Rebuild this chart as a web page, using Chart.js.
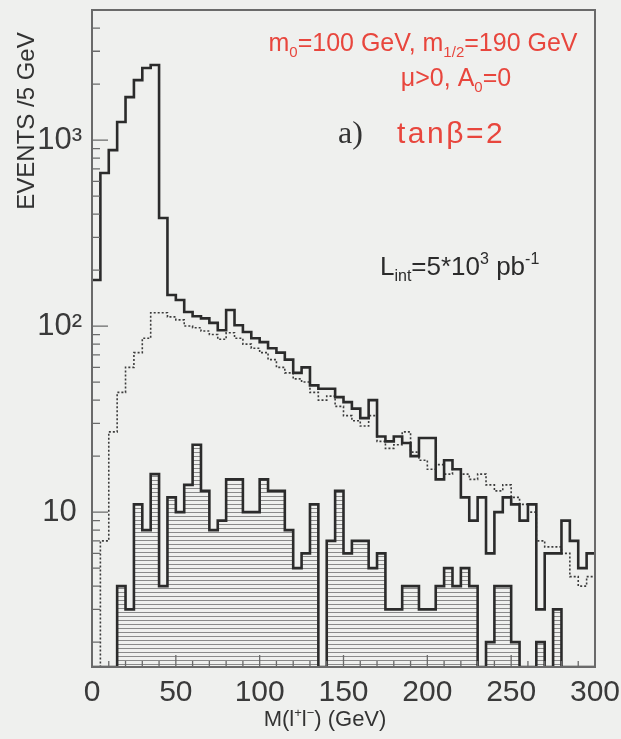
<!DOCTYPE html>
<html>
<head>
<meta charset="utf-8">
<script src="https://cdn.jsdelivr.net/npm/chart.js@4.4.0/dist/chart.umd.min.js"></script>
<style>
    html, body { margin: 0; padding: 0; background: #eff0ee; }
    canvas { display: block; }
</style>
</head>
<body>
<canvas id="massCanvas" width="621" height="739"></canvas>
<script>
// dilepton invariant mass, 5 GeV bins (lower edges)
var massBins = [0, 5, 10, 15, 20, 25, 30, 35, 40, 45, 50, 55, 60, 65, 70, 75, 80, 85, 90, 95,
    100, 105, 110, 115, 120, 125, 130, 135, 140, 145, 150, 155, 160, 165, 170, 175, 180, 185, 190, 195,
    200, 205, 210, 215, 220, 225, 230, 235, 240, 245, 250, 255, 260, 265, 270, 275, 280, 285, 290, 295];
var binWidth = 5;

// solid histogram (all events)
var totalEvents = [177, 665, 883, 1250, 1700, 2100, 2440, 2530, 381, 147,
    138, 119, 113, 110, 104, 95, 122, 101, 93, 86,
    82, 76, 72, 66, 56, 60, 48, 46, 46, 41.5,
    39, 36, 32, 40, 25.5, 24, 25.5, 23.5, 20, 25,
    25, 15, 19, 17, 12, 9, 12, 6, 10, 12,
    11, 9, 11, 3, 6, 6, 9, 7, 5, 6];

// dotted histogram
var dottedEvents = [0, 7, 27, 44, 60, 72, 86, 118, 118, 112,
    108, 100, 98, 94, 90, 85, 92, 86, 80, 76,
    72, 66, 60, 56, 52, 50, 44, 40, 42, 37,
    33, 31, 29, 33, 24, 22, 23, 27, 21, 19,
    17, 18, 16, 17, 16, 15, 16, 14, 13, 14,
    12, 11, 10, 7, 6.5, 6.5, 6, 4.5, 4, 4.5];

// hatched histogram
var hatchedEvents = [0, 0, 0, 4, 3, 11, 8, 16, 4, 12,
    10, 14, 23, 13, 8, 9, 15, 15, 10, 10,
    15, 13, 13, 8, 5, 6, 11, 0, 7, 13,
    6, 7, 7, 5, 6, 3, 3, 4, 4, 3,
    3, 4, 5, 4, 5, 4, 0, 2, 4, 4,
    2, 0, 0, 2, 0, 3, 0, 0, 0, 0];

var xTickValues = [0, 50, 100, 150, 200, 250, 300];
var yTickValues = [10, 100, 1000];
var yTickLabels = ['10', '10²', '10³'];
var Y_MIN = 1.47, Y_MAX = 5000;

var RED = '#e8463d';
var INK = '#2b2b2b';
var SANS = '"Liberation Sans", Arial, sans-serif';

function stepPoints(values) {
    var pts = massBins.map(function (m, i) {
        return {x: m, y: values[i] > 0 ? values[i] : Y_MIN};
    });
    var last = values[values.length - 1];
    pts.push({x: massBins[massBins.length - 1] + binWidth, y: last > 0 ? last : Y_MIN});
    return pts;
}

function hatchPattern(ctx) {
    var c = document.createElement('canvas');
    c.width = 8;
    c.height = 4;
    var g = c.getContext('2d');
    g.fillStyle = '#8a8a8a';
    g.fillRect(0, 0, 8, 1);
    return ctx.createPattern(c, 'repeat');
}

// text with sub (-1) / superscript (1) pieces
function drawRich(ctx, parts, x, y, size, family, align, spacing) {
    var small = Math.round(size * 0.6);
    ctx.letterSpacing = (spacing || 0) + 'px';
    var widths = parts.map(function (p) {
        ctx.font = (p[1] ? small : size) + 'px ' + family;
        return ctx.measureText(p[0]).width;
    });
    var total = widths.reduce(function (a, b) { return a + b; }, 0);
    var cx = align === 'center' ? x - total / 2 : (align === 'right' ? x - total : x);
    ctx.textAlign = 'left';
    ctx.textBaseline = 'alphabetic';
    parts.forEach(function (p, i) {
        ctx.font = (p[1] ? small : size) + 'px ' + family;
        var dy = p[1] > 0 ? -size * 0.42 : (p[1] < 0 ? size * 0.22 : 0);
        ctx.fillText(p[0], cx, y + dy);
        cx += widths[i];
    });
    ctx.letterSpacing = '0px';
}

var frameTicks = {
    id: 'frameTicks',
    afterDraw: function (chart) {
        var ctx = chart.ctx, a = chart.chartArea;
        var xs = chart.scales.x, ys = chart.scales.y;
        ctx.save();
        ctx.strokeStyle = '#6a6a6a';
        ctx.lineWidth = 2;
        ctx.strokeRect(a.left, a.top, a.right - a.left, a.bottom - a.top);
        ctx.lineWidth = 1.3;
        ctx.beginPath();
        for (var m = 0; m <= 300; m += 10) {
            var px = xs.getPixelForValue(m);
            var len = m % 50 === 0 ? 12 : 6;
            ctx.moveTo(px, a.bottom);
            ctx.lineTo(px, a.bottom - len);
        }
        for (var d = 1; d <= 1000; d *= 10) {
            for (var k = 1; k <= 9; k++) {
                var v = k * d;
                if (v < Y_MIN || v > Y_MAX) continue;
                var py = ys.getPixelForValue(v);
                ctx.moveTo(a.left, py);
                ctx.lineTo(a.left + (k === 1 ? 16 : 8), py);
            }
        }
        ctx.stroke();
        ctx.restore();
    }
};

var labels = {
    id: 'labels',
    afterDraw: function (chart) {
        var ctx = chart.ctx;
        ctx.save();
        // axis titles
        ctx.fillStyle = '#333';
        ctx.save();
        ctx.translate(27, 121);
        ctx.rotate(-Math.PI / 2);
        ctx.font = '24px ' + SANS;
        ctx.textAlign = 'center';
        ctx.textBaseline = 'middle';
        ctx.fillText('EVENTS /5 GeV', 0, 0);
        ctx.restore();
        drawRich(ctx, [['M(l', 0], ['+', 1], ['l', 0], ['−', 1], [') (GeV)', 0]],
            325, 726, 22, SANS, 'center');

        // parameters
        ctx.fillStyle = RED;
        drawRich(ctx, [['m', 0], ['0', -1], ['=100 GeV, m', 0], ['1/2', -1], ['=190 GeV', 0]],
            423, 51, 25, SANS, 'center');
        drawRich(ctx, [['μ>0, A', 0], ['0', -1], ['=0', 0]],
            456, 86, 25, SANS, 'center');
        drawRich(ctx, [['tanβ=2', 0]], 397, 143, 30, SANS, 'left', 2.5);

        ctx.fillStyle = '#333';
        drawRich(ctx, [['a)', 0]], 338, 143, 32, '"Liberation Serif", "Times New Roman", serif', 'left');
        ctx.fillStyle = INK;
        drawRich(ctx, [['L', 0], ['int', -1], ['=5*10', 0], ['3', 1], [' pb', 0], ['-1', 1]],
            380, 275, 26, SANS, 'left');
        ctx.restore();
    }
};

function drawMassChart() {
    var ctx = document.getElementById('massCanvas').getContext('2d');
    var chart = new Chart(ctx, {
        type: 'line',
        data: {
            datasets: [{
                label: 'all',
                data: stepPoints(totalEvents),
                stepped: true,
                borderColor: INK,
                borderWidth: 2.6,
                pointRadius: 0,
                fill: false,
                order: 1
            }, {
                label: 'dotted',
                data: stepPoints(dottedEvents),
                stepped: true,
                borderColor: '#3c3c3c',
                borderWidth: 1.6,
                borderDash: [2, 2],
                pointRadius: 0,
                fill: false,
                order: 2
            }, {
                label: 'hatched',
                data: stepPoints(hatchedEvents),
                stepped: true,
                borderColor: INK,
                borderWidth: 2.6,
                backgroundColor: hatchPattern(ctx),
                pointRadius: 0,
                fill: 'start',
                order: 3
            }]
        },
        options: {
            responsive: false,
            animation: false,
            layout: {padding: {top: 10, right: 26, bottom: 0, left: 0}},
            plugins: {
                legend: {display: false},
                tooltip: {enabled: false}
            },
            scales: {
                x: {
                    type: 'linear',
                    min: 0,
                    max: 300,
                    afterBuildTicks: function (s) {
                        s.ticks = xTickValues.map(function (v) { return {value: v}; });
                    },
                    afterFit: function (s) {
                        s.height = 72;
                        s.paddingLeft = 0;
                        s.paddingRight = 0;
                    },
                    grid: {display: false},
                    border: {display: false},
                    ticks: {
                        autoSkip: false,
                        maxRotation: 0,
                        padding: 0,
                        color: '#3a3a3a',
                        font: {family: SANS, size: 30}
                    }
                },
                y: {
                    type: 'logarithmic',
                    min: Y_MIN,
                    max: Y_MAX,
                    afterBuildTicks: function (s) {
                        s.ticks = yTickValues.map(function (v) { return {value: v}; });
                    },
                    afterFit: function (s) {
                        s.width = 92;
                        s.paddingTop = 0;
                        s.paddingBottom = 0;
                    },
                    grid: {display: false},
                    border: {display: false},
                    ticks: {
                        autoSkip: false,
                        crossAlign: 'center',
                        padding: 2,
                        color: '#3a3a3a',
                        font: {family: SANS, size: 31},
                        callback: function (v) {
                            var i = yTickValues.indexOf(v);
                            return i >= 0 ? yTickLabels[i] : '';
                        }
                    }
                }
            }
        },
        plugins: [frameTicks, labels]
    });
}

drawMassChart();
</script>
</body>
</html>
